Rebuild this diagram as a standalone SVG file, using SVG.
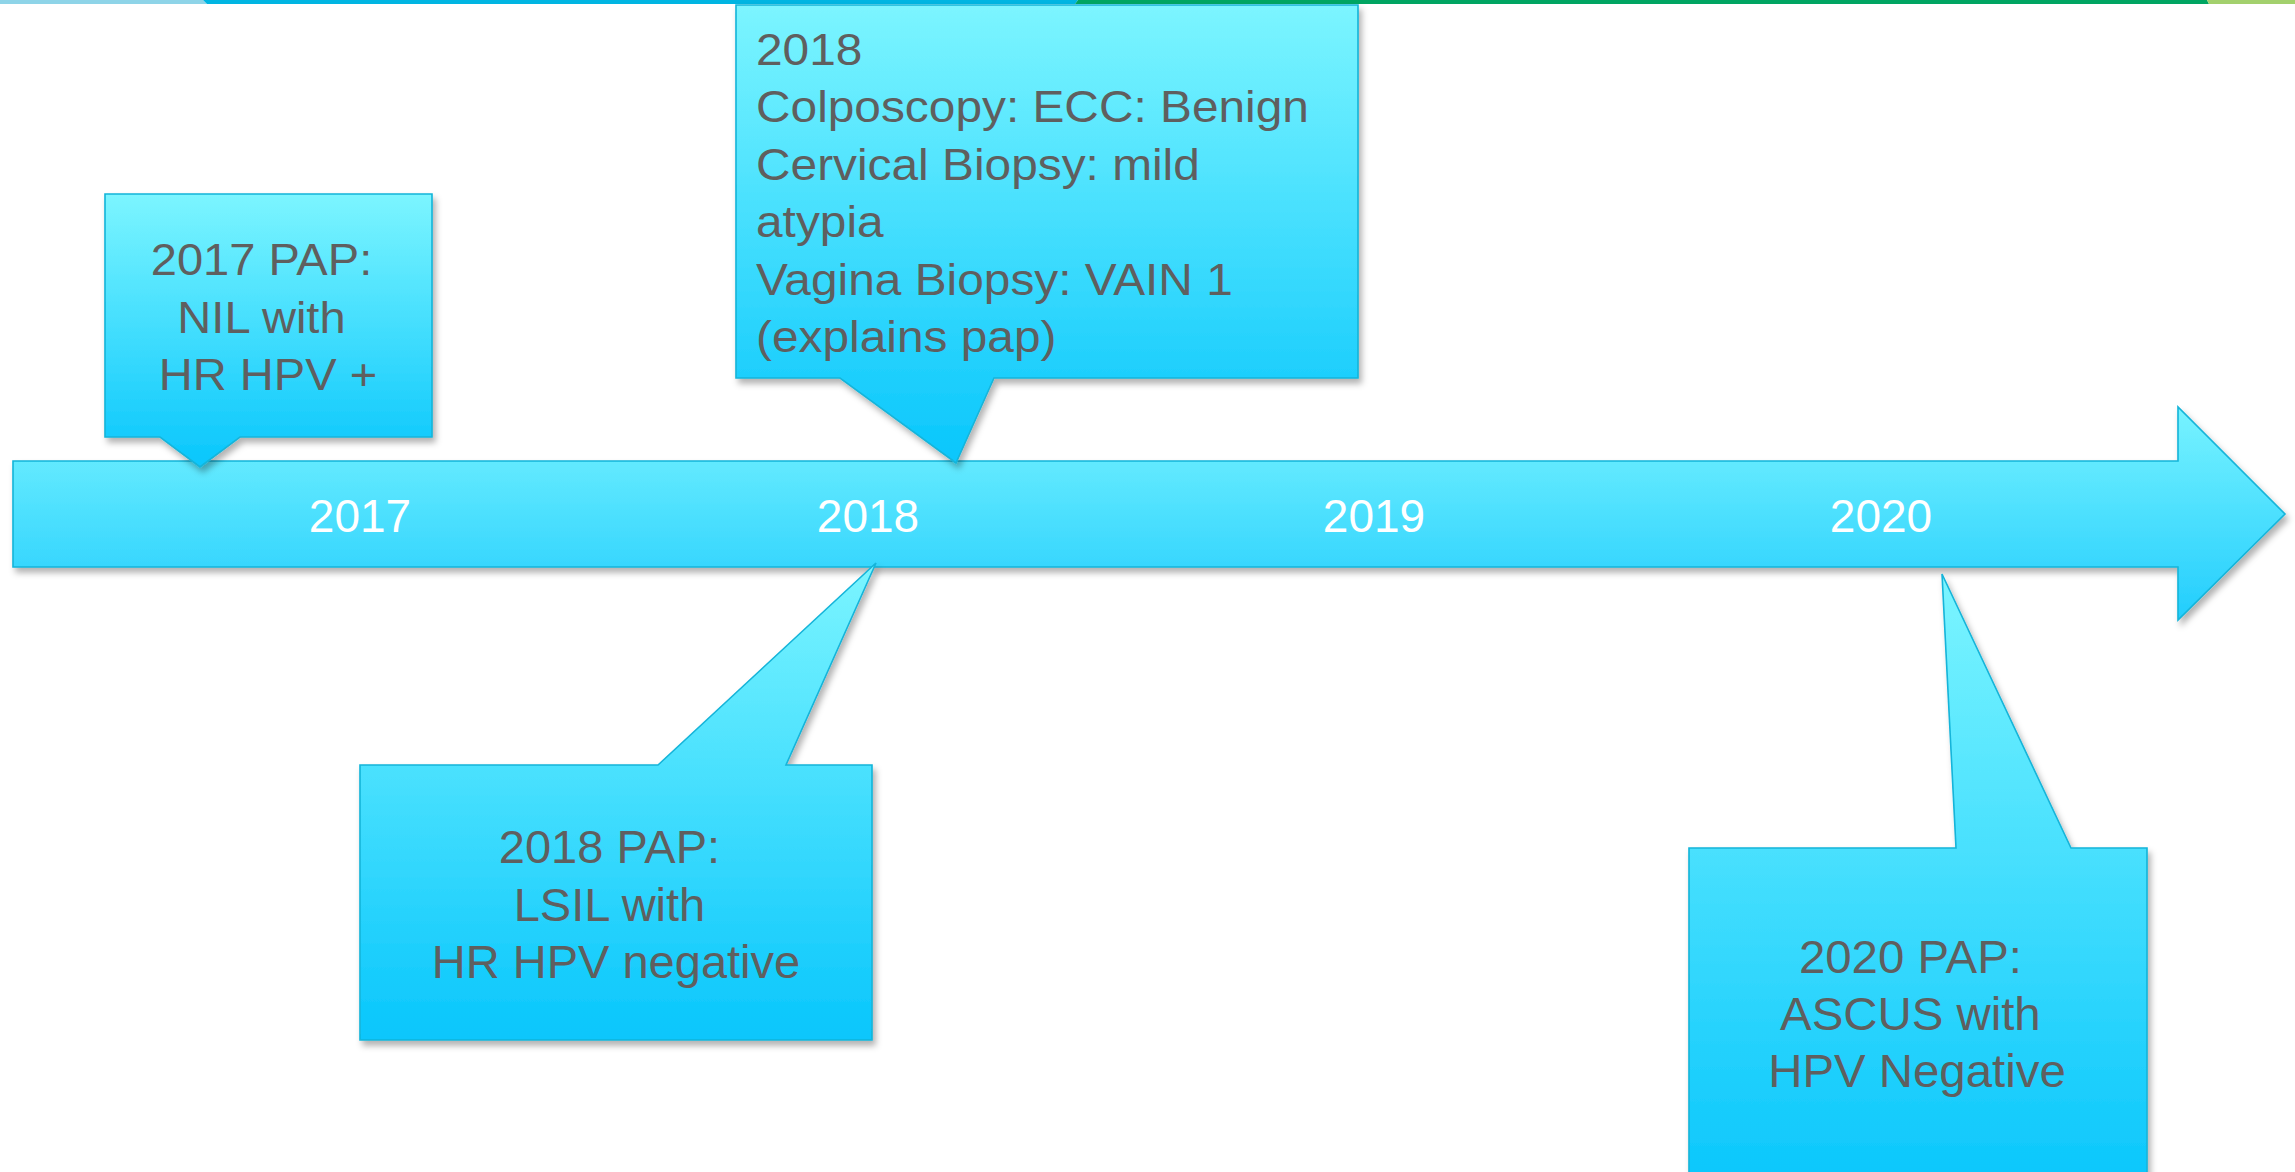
<svg xmlns="http://www.w3.org/2000/svg" width="2295" height="1172" viewBox="0 0 2295 1172">
  <style>
    .shape { stroke: #14b4d9; stroke-width: 1.6; stroke-linejoin: miter; }
    .note { font-family: "Liberation Sans", Arial, sans-serif; fill: #5f5f5f; }
    .year { font-family: "Liberation Sans", Arial, sans-serif; fill: #ffffff; font-size: 46px; text-anchor: middle; }
  </style>
  <defs>
    <linearGradient id="cyanFill" x1="0" y1="0" x2="0" y2="1">
      <stop offset="0" stop-color="#7cf5ff"/>
      <stop offset="1" stop-color="#08c6fc"/>
    </linearGradient>
    <linearGradient id="barFill" x1="0" y1="0" x2="0" y2="1">
      <stop offset="0" stop-color="#78f3ff"/>
      <stop offset="1" stop-color="#22cdfd"/>
    </linearGradient>
    <filter id="drop" x="-10%" y="-10%" width="125%" height="130%">
      <feGaussianBlur in="SourceAlpha" stdDeviation="3"/>
      <feOffset dx="3" dy="5" result="blur"/>
      <feFlood flood-color="#000000" flood-opacity="0.3"/>
      <feComposite in2="blur" operator="in"/>
      <feMerge>
        <feMergeNode/>
        <feMergeNode in="SourceGraphic"/>
      </feMerge>
    </filter>
  </defs>

  <rect width="2295" height="1172" fill="#ffffff"/>

  <!-- coloured rule along the top edge -->
  <g id="top-rule">
    <polygon points="0,0 203,0 207,4 0,4" fill="#8ed4e8"/>
    <polygon points="203,0 1078,0 1075,4 207,4" fill="#00b5e2"/>
    <polygon points="1078,0 2207,0 2209,4 1075,4" fill="#00a562"/>
    <polygon points="2207,0 2295,0 2295,4 2209,4" fill="#a3d06d"/>
  </g>

  <!-- timeline arrow -->
  <g id="connectors">
    <path id="timeline" class="shape" filter="url(#drop)" fill="url(#barFill)"
          d="M13,461 H2178 V407 L2285,514 L2178,620 V567 H13 Z"/>
  </g>

  <g id="year-labels">
    <text class="year" x="360" y="532">2017</text>
    <text class="year" x="868" y="532">2018</text>
    <text class="year" x="1374" y="532">2019</text>
    <text class="year" x="1881" y="532">2020</text>
  </g>

  <!-- 2017 PAP callout -->
  <g id="pap-2017">
    <path class="shape" filter="url(#drop)" fill="url(#cyanFill)"
          d="M105,194 H432 V437 H240 L200,467 L160,437 H105 Z"/>
    <g transform="translate(268,0) scale(1.07,1)">
      <text class="note" font-size="44" text-anchor="middle">
        <tspan x="0" y="275">2017 PAP:</tspan>
        <tspan x="0" y="333">NIL with</tspan>
        <tspan x="0" y="390">HR HPV +</tspan>
      </text>
    </g>
  </g>

  <!-- 2018 colposcopy callout -->
  <g id="colposcopy-2018">
    <path class="shape" filter="url(#drop)" fill="url(#cyanFill)"
          d="M736,5 H1358 V378 H994 L956,463 L840,378 H736 Z"/>
    <g transform="translate(756,0) scale(1.075,1)">
      <text class="note" font-size="44.5">
        <tspan x="0" y="65">2018</tspan>
        <tspan x="0" y="122">Colposcopy: ECC: Benign</tspan>
        <tspan x="0" y="180">Cervical Biopsy: mild</tspan>
        <tspan x="0" y="237">atypia</tspan>
        <tspan x="0" y="295">Vagina Biopsy: VAIN 1</tspan>
        <tspan x="0" y="352">(explains pap)</tspan>
      </text>
    </g>
  </g>

  <!-- 2018 PAP callout -->
  <g id="pap-2018">
    <path class="shape" filter="url(#drop)" fill="url(#cyanFill)"
          d="M360,765 H658 L876,563 L786,765 H872 V1040 H360 Z"/>
    <text class="note" font-size="47" text-anchor="middle">
      <tspan x="616" y="863">2018 PAP:</tspan>
      <tspan x="616" y="921">LSIL with</tspan>
      <tspan x="616" y="978">HR HPV negative</tspan>
    </text>
  </g>

  <!-- 2020 PAP callout -->
  <g id="pap-2020">
    <path class="shape" filter="url(#drop)" fill="url(#cyanFill)"
          d="M1689,848 H1956 L1942,574 L2071,848 H2147 V1195 H1689 Z"/>
    <g transform="translate(1917,0) scale(1.03,1)">
      <text class="note" font-size="46" text-anchor="middle">
        <tspan x="0" y="973">2020 PAP:</tspan>
        <tspan x="0" y="1030">ASCUS with</tspan>
        <tspan x="0" y="1087">HPV Negative</tspan>
      </text>
    </g>
  </g>
</svg>
